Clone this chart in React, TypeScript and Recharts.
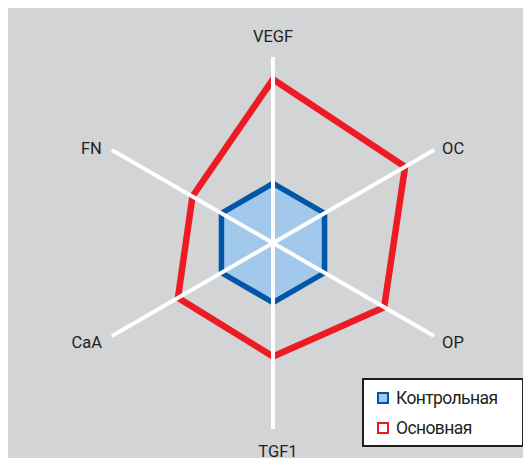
import { RadarChart, Radar, PolarGrid, PolarAngleAxis, PolarRadiusAxis, Legend } from 'recharts';

const AXES = ['VEGF', 'OC', 'OP', 'TGF1', 'CaA', 'FN'];
const CONTROL = [32, 32, 32, 32, 32, 32];
const MAIN = [88, 82, 69, 61, 59, 50];
const SERIES_NAMES = ['Контрольная', 'Основная'];

const data = AXES.map((axis, i) => ({ axis, control: CONTROL[i], main: MAIN[i] }));

const CX = 273;
const CY = 243;
const R = 186;
const FONT = "Roboto, 'Liberation Sans', sans-serif";
const TEXT = '#231f20';
const RED = '#ed1c24';
const BLUE = '#0057a8';
const BLUE_FILL = '#a2c9ec';

// --- axis labels, pushed out past the end of each spoke ---
function AxisLabel(props: any) {
  const { x, y, payload, textAnchor } = props;
  const d = Math.hypot(x - CX, y - CY) || 1;
  const ux = (x - CX) / d;
  const uy = (y - CY) / d;
  const ex = CX + ux * R;
  const ey = CY + uy * R;
  let tx = ex;
  let ty = ey;
  if (textAnchor === 'middle') {
    ty = ey + (uy < 0 ? -21 : 22);
    tx = ex + (uy < 0 ? 0 : 5);
  } else {
    tx = ex + (textAnchor === 'start' ? 8 : -10);
    ty = ey + (uy > 0 ? 6 : -2);
  }
  return (
    <text x={tx} y={ty} textAnchor={textAnchor} dominantBaseline="central"
      fill={TEXT} fontSize={16.5} fontFamily={FONT}>
      {payload.value}
    </text>
  );
}

function LegendBox() {
  const swatches = [
    { fill: BLUE_FILL, stroke: BLUE },
    { fill: '#fff', stroke: RED },
  ];
  return (
    <div style={{
      boxSizing: 'border-box', width: 162, height: 69, background: '#fff',
      border: `2px solid ${TEXT}`, paddingTop: 3, paddingLeft: 13,
    }}>
      {SERIES_NAMES.map((name, i) => (
        <div key={name} style={{ display: 'flex', alignItems: 'center', height: 30 }}>
          <span style={{
            boxSizing: 'border-box', width: 12, height: 12, display: 'inline-block',
            background: swatches[i].fill, border: `2.5px solid ${swatches[i].stroke}`,
          }} />
          <span style={{
            marginLeft: 7, fontFamily: FONT, fontSize: 17.5, letterSpacing: -0.6,
            color: TEXT, lineHeight: '20px',
          }}>
            {name}
          </span>
        </div>
      ))}
    </div>
  );
}

export default function App() {
  return (
    <div style={{ position: 'relative', width: 531, height: 466, margin: -8, background: '#fff', overflow: 'hidden' }}>
      <div style={{ position: 'absolute', left: 7, top: 6, width: 524, height: 460, background: '#d3d4d6' }} />
      <div style={{ position: 'absolute', left: 0, top: 0 }}>
        <RadarChart width={531} height={466} data={data} cx={CX} cy={CY} outerRadius={R}
          margin={{ top: 0, right: 0, bottom: 0, left: 0 }}>
          <PolarRadiusAxis domain={[0, 100]} angle={90} tick={false} axisLine={false} />
          <PolarAngleAxis dataKey="axis" tick={AxisLabel} tickLine={false} axisLine={false} />
          <Radar name={SERIES_NAMES[0]} dataKey="control" stroke={BLUE} strokeWidth={5.5}
            fill={BLUE_FILL} fillOpacity={1} isAnimationActive={false} zIndex={-300} />
          <Radar name={SERIES_NAMES[1]} dataKey="main" stroke={RED} strokeWidth={6.5}
            fill="none" fillOpacity={0} isAnimationActive={false} zIndex={-250} />
          {/* spokes sit on top of both shapes in the original */}
          <PolarGrid polarRadius={[]} stroke="#fff" strokeWidth={4} zIndex={700} />
          <Legend content={() => <LegendBox />}
            wrapperStyle={{ position: 'absolute', left: 362, top: 378, width: 162, height: 69 }} />
        </RadarChart>
      </div>
    </div>
  );
}
